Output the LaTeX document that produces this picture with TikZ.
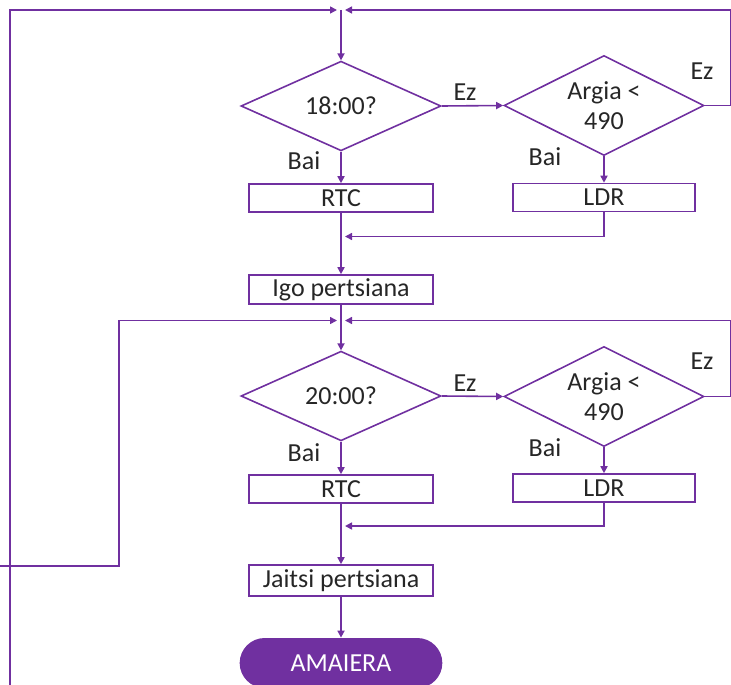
\documentclass[tikz,border=0pt]{standalone}
\usepackage{fontspec}
\setmainfont{Carlito}
\usetikzlibrary{calc, positioning}
\usetikzlibrary{arrows.meta}
\usetikzlibrary{shapes.geometric, shapes.misc}
\definecolor{morea}{HTML}{7030A0}

\begin{document}
\begin{tikzpicture}[x=0.5pt, y=-0.5pt,
  txt/.style={font=\fontsize{13}{15}\selectfont, text=black!85},
  decision/.style={diamond, draw=morea, line width=0.8pt, inner sep=0pt, align=center, txt},
  lightcheck/.style={decision, minimum width=100pt, minimum height=50pt,
    label={[txt, align=center]center:Argia <\\490}},
  process/.style={rectangle, draw=morea, line width=0.8pt, inner sep=0pt, minimum height=14pt, txt},
  terminal/.style={rounded rectangle, fill=morea, minimum width=108pt, minimum height=25pt, font=\fontsize{13}{15}\selectfont, text=white},
  flow/.style={draw=morea, line width=0.8pt, -{Triangle[length=3.5pt, width=3.5pt]}},
  lbl/.style={txt, inner sep=0pt}]
\clip (0,0) rectangle (731,684);
\useasboundingbox (0,0) rectangle (731,684);

% first loop
\node[decision, minimum width=100pt, minimum height=40pt] (hour1) at (341,106) {18:00?};
\node[lightcheck] (light1) at (604,105.5) {};
\node[process, minimum width=92pt] (rtc1) at (341,198) {RTC};
\node[process, minimum width=91pt] (ldr1) at (604,197.5) {LDR};
\node[process, minimum width=92pt, minimum height=14.5pt] (up) at (341,289.5) {Igo pertsiana};

% second loop
\node[decision, minimum width=100pt, minimum height=40pt] (hour2) at (341,396) {20:00?};
\node[lightcheck] (light2) at (604,396.5) {};
\node[process, minimum width=92pt] (rtc2) at (341,489) {RTC};
\node[process, minimum width=91pt] (ldr2) at (604,488) {LDR};
\node[process, minimum width=92pt, minimum height=15.5pt] (down) at (341,580.5) {Jaitsi pertsiana};
\node[terminal] (end) at (341,663) {AMAIERA};

% labels
\node[lbl] (ez1) at (465,92) {Ez};
\node[lbl] (ez2) at (702,71) {Ez};
\node[lbl] (bai1) at (304,161) {Bai};
\node[lbl] (bai2) at (545,157) {Bai};
\node[lbl] (ez3) at (465,383) {Ez};
\node[lbl] (ez4) at (702,361) {Ez};
\node[lbl] (bai3) at (304,453) {Bai};
\node[lbl] (bai4) at (545,448) {Bai};

\coordinate (J1) at (341,10);
\coordinate (M1) at (341,236.5);
\coordinate (J2) at (341,320.5);
\coordinate (M2) at (341,526);
\coordinate (BL) at (10,690);
\coordinate (LE) at (-5,566);

% connectors
\draw[flow] (J1) -- (hour1.north);
\draw[flow] (hour1.east) -- (light1.west);
\draw[flow] (hour1.south) -- (rtc1.north);
\draw[flow] (light1.south) -- (ldr1.north);
\draw[flow, shorten >=2pt] (light1.east) -- ++(26,0) |- (J1);
\draw[flow, shorten >=2pt] (BL) |- (J1);
\draw[flow, shorten >=2pt] (ldr1.south) |- (M1);
\draw[flow] (rtc1.south) -- (up.north);
\draw[flow] (up.south) -- (hour2.north);
\draw[flow] (hour2.east) -- (light2.west);
\draw[flow] (hour2.south) -- (rtc2.north);
\draw[flow] (light2.south) -- (ldr2.north);
\draw[flow, shorten >=2pt] (light2.east) -- ++(26,0) |- (J2);
\draw[flow, shorten >=2pt] (LE) -- (119,566) |- (J2);
\draw[flow, shorten >=2pt] (ldr2.south) |- (M2);
\draw[flow] (rtc2.south) -- (down.north);
\draw[flow] (down.south) -- (end.north);
\end{tikzpicture}
\end{document}
